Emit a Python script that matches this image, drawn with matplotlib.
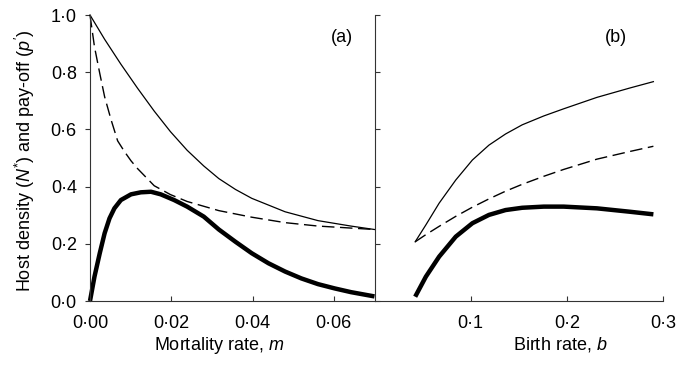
import matplotlib
matplotlib.use("Agg")
import matplotlib.pyplot as plt
from matplotlib.ticker import FuncFormatter

plt.rcParams['font.family'] = ['Liberation Sans', 'DejaVu Sans']
plt.rcParams['mathtext.fontset'] = 'custom'
plt.rcParams['mathtext.rm'] = 'Liberation Sans'
plt.rcParams['mathtext.it'] = 'Liberation Sans:italic'

# ---- Panel (a): mortality rate m ----
m_thin = [0.0, 0.0036, 0.0076, 0.0117, 0.0158, 0.0198, 0.0239, 0.0280, 0.0317,
          0.0358, 0.0398, 0.0480, 0.0561, 0.0642, 0.0700]
n_thin = [1.0, 0.915, 0.828, 0.744, 0.664, 0.592, 0.527, 0.472, 0.428,
          0.390, 0.359, 0.312, 0.281, 0.262, 0.250]

m_dash = [0.0, 0.0011, 0.0024, 0.0036, 0.0052, 0.0068, 0.0085, 0.0101, 0.0117,
          0.0158, 0.0198, 0.0239, 0.0317, 0.0398, 0.0480, 0.0561, 0.0642, 0.0700]
n_dash = [1.0, 0.889, 0.796, 0.714, 0.633, 0.560, 0.522, 0.490, 0.463,
          0.403, 0.372, 0.348, 0.316, 0.293, 0.274, 0.262, 0.255, 0.250]

m_thick = [0.0, 0.0011, 0.0024, 0.0036, 0.0048, 0.0060, 0.0076, 0.0101, 0.0125,
           0.0150, 0.0174, 0.0207, 0.0239, 0.0280, 0.0317, 0.0358, 0.0398,
           0.0439, 0.0480, 0.0520, 0.0561, 0.0602, 0.0642, 0.0700]
p_thick = [0.0, 0.085, 0.167, 0.237, 0.289, 0.324, 0.353, 0.373, 0.380,
           0.382, 0.373, 0.353, 0.330, 0.295, 0.250, 0.207, 0.167,
           0.132, 0.103, 0.079, 0.059, 0.044, 0.031, 0.016]

# ---- Panel (b): birth rate b ----
b_vals = [0.0423, 0.0534, 0.0672, 0.0845, 0.1018, 0.1190, 0.1363, 0.1536, 0.1760,
          0.1967, 0.2313, 0.2658, 0.2900]
nb_thin = [0.207, 0.266, 0.342, 0.423, 0.493, 0.545, 0.584, 0.616, 0.647,
           0.672, 0.712, 0.745, 0.767]
nb_dash = [0.207, 0.232, 0.261, 0.296, 0.328, 0.357, 0.384, 0.408, 0.436,
           0.460, 0.496, 0.523, 0.541]
pb_thick = [0.015, 0.085, 0.155, 0.225, 0.272, 0.301, 0.318, 0.326, 0.330,
            0.330, 0.324, 0.312, 0.303]

y_ticks = [0.0, 0.2, 0.4, 0.6, 0.8, 1.0]
a_xticks = [0.0, 0.02, 0.04, 0.06]
b_xticks = [0.1, 0.2, 0.3]


def dotfmt(nd):
    return FuncFormatter(lambda v, p: f"{v:.{nd}f}".replace('.', '\u00b7'))


fig = plt.figure(figsize=(6.76, 3.65), dpi=100)
W, H = 676, 365
axL = fig.add_axes([90 / W, 1 - 301 / H, 284.5 / W, 286 / H])
axR = fig.add_axes([374.5 / W, 1 - 301 / H, 288.5 / W, 286 / H])

spine_col = '#333333'
for ax in (axL, axR):
    ax.spines['top'].set_visible(False)
    ax.spines['right'].set_visible(False)
    for s in ('left', 'bottom'):
        ax.spines[s].set_linewidth(0.8)
        ax.spines[s].set_color(spine_col)
    ax.set_ylim(0, 1.0)
    ax.set_yticks(y_ticks)

lw_thin, lw_dash, lw_thick = 0.9, 1.0, 3.2

axL.plot(m_thin, n_thin, color='black', lw=lw_thin, clip_on=False)
axL.plot(m_dash, n_dash, color='black', lw=lw_dash, dashes=(9, 4), clip_on=False)
axL.plot(m_thick, p_thick, color='black', lw=lw_thick, solid_capstyle='butt',
         solid_joinstyle='round', clip_on=False)
axL.set_xlim(0, 0.07)
axL.set_xticks(a_xticks)
axL.xaxis.set_major_formatter(dotfmt(2))
axL.yaxis.set_major_formatter(dotfmt(1))
axL.tick_params(axis='y', direction='out', length=3.5, width=0.8, pad=6, labelsize=13, color=spine_col)
axL.tick_params(axis='x', direction='in', length=3.5, width=0.8, pad=10, labelsize=13, color=spine_col)
axL.set_xlabel(r'Mortality rate, $\mathit{m}$', fontsize=13)
axL.xaxis.set_label_coords(0.453, -0.12)
axL.set_ylabel(r'Host density ($\mathit{N}^{*}$) and pay-off ($\mathit{p}^{\prime}$)', fontsize=13)
axL.yaxis.set_label_coords(-0.187, 0.49)
axL.text(0.886, 0.923, '(a)', transform=axL.transAxes, ha='center', va='center', fontsize=13)

axR.plot(b_vals, nb_thin, color='black', lw=lw_thin)
axR.plot(b_vals, nb_dash, color='black', lw=lw_dash, dashes=(9, 4))
axR.plot(b_vals, pb_thick, color='black', lw=lw_thick, solid_capstyle='butt',
         solid_joinstyle='round')
axR.set_xlim(0, 0.3)
axR.set_xticks(b_xticks)
axR.xaxis.set_major_formatter(dotfmt(1))
axR.tick_params(axis='y', direction='in', length=3.5, width=0.8, labelleft=False, color=spine_col)
axR.tick_params(axis='x', direction='in', length=3.5, width=0.8, pad=10, labelsize=13, color=spine_col)
axR.set_xlabel(r'Birth rate, $\mathit{b}$', fontsize=13)
axR.xaxis.set_label_coords(0.643, -0.12)
axR.text(0.837, 0.923, '(b)', transform=axR.transAxes, ha='center', va='center', fontsize=13)

fig.savefig('out.png', dpi=100)
